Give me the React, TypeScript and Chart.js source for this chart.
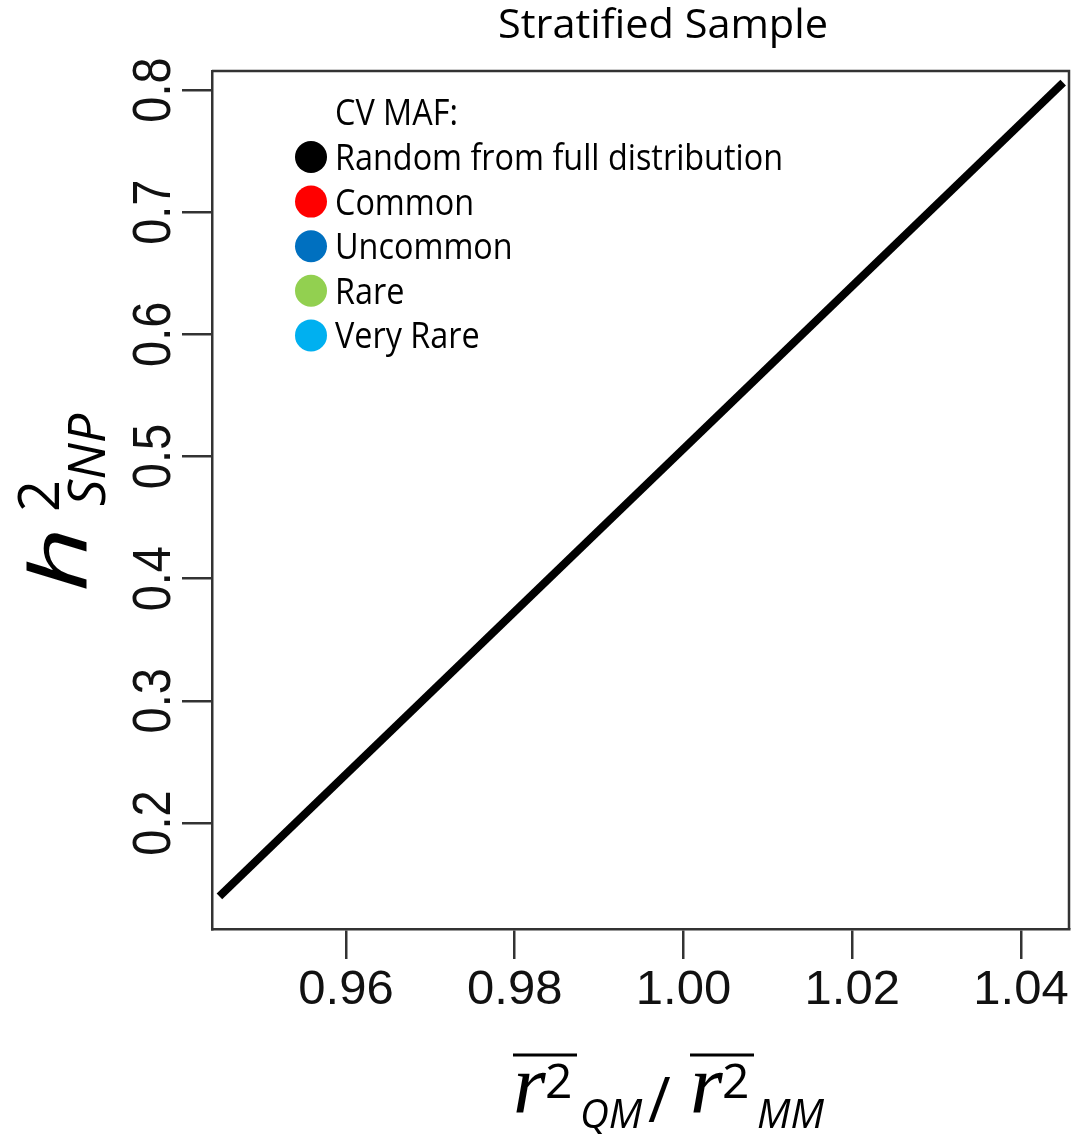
import { useEffect, useRef } from "react";
import { Chart, registerables } from "chart.js";

Chart.register(...registerables);

// Fitted relationship between the r² ratio and SNP heritability
const ratioValues = [0.945, 1.045];
const h2Values = [0.14, 0.806];

// Axis extents and tick marks
const xRange = [0.94412, 1.04569];
const yRange = [0.11324, 0.81555];
const xTicks = [0.96, 0.98, 1.0, 1.02, 1.04];
const yTicks = [0.2, 0.3, 0.4, 0.5, 0.6, 0.7, 0.8];

// Causal-variant MAF categories shown in the key
const legendTitle = "CV MAF:";
const legendLabels = ["Random from full distribution", "Common", "Uncommon", "Rare", "Very Rare"];
const legendColors = ["#000000", "#FF0000", "#0070C0", "#92D050", "#00B0F0"];

const chartTitle = "Stratified Sample";

const AXIS_COLOR = "#333333";
const SANS = "'Open Sans', 'Noto Sans', sans-serif";
const ARIAL = "'Liberation Sans', Arial, sans-serif";
const SERIF = "'Liberation Serif', 'DejaVu Serif', serif";

// Draws text squeezed horizontally so it spans the given width
function drawFitted(ctx: CanvasRenderingContext2D, text: string, x: number, y: number, scaleX: number, align: CanvasTextAlign) {
  ctx.save();
  ctx.translate(x, y);
  ctx.scale(scaleX, 1);
  ctx.textAlign = align;
  ctx.fillText(text, 0, 0);
  ctx.restore();
}

const decorations = {
  id: "decorations",
  afterDraw(chart: any) {
    const ctx: CanvasRenderingContext2D = chart.ctx;
    const area = chart.chartArea;
    const yScale = chart.scales.y;

    ctx.save();
    // closing frame: top and right edges
    ctx.strokeStyle = AXIS_COLOR;
    ctx.lineWidth = 2.5;
    ctx.beginPath();
    ctx.moveTo(area.left, area.top);
    ctx.lineTo(area.right, area.top);
    ctx.lineTo(area.right, area.bottom);
    ctx.stroke();

    ctx.fillStyle = "#111111";
    ctx.textBaseline = "alphabetic";

    // rotated y tick labels
    ctx.font = `47px ${ARIAL}`;
    yScale.ticks.forEach((t: any) => {
      const py = yScale.getPixelForValue(t.value);
      ctx.save();
      ctx.translate(170, py);
      ctx.rotate(-Math.PI / 2);
      ctx.scale(1, 1.13);
      ctx.textAlign = "center";
      ctx.fillText(t.value.toFixed(1), 0, 0);
      ctx.restore();
    });

    // title
    ctx.fillStyle = "#000000";
    ctx.font = `40px ${SANS}`;
    const tw = ctx.measureText(chartTitle).width;
    drawFitted(ctx, chartTitle, 498, 38, 330 / tw, "left");

    // legend
    ctx.font = `37px ${SANS}`;
    const lw = ctx.measureText(legendLabels[0]).width;
    const lsx = 448 / lw;
    drawFitted(ctx, legendTitle, 335, 125, lsx, "left");
    const datasets = chart.data.datasets;
    datasets.forEach((ds: any, i: number) => {
      const base = 170 + i * 44.6;
      ctx.fillStyle = ds.legendColor;
      ctx.beginPath();
      ctx.arc(311, base - 13, 16, 0, Math.PI * 2);
      ctx.fill();
      ctx.fillStyle = "#000000";
      drawFitted(ctx, ds.label, 335, base, lsx, "left");
    });

    // y axis title: h²_SNP, reading bottom to top
    ctx.save();
    ctx.translate(87, 592);
    ctx.rotate(-Math.PI / 2);
    ctx.textAlign = "left";
    ctx.font = `italic 78px ${SANS}`;
    ctx.save();
    ctx.scale(1.45, 1);
    ctx.fillText("h", 0, 0);
    ctx.restore();
    ctx.font = `56px ${SANS}`;
    ctx.fillText("2", 80, -28);
    ctx.font = `italic 52px ${SANS}`;
    ctx.fillText("SNP", 86, 18);
    ctx.restore();

    // x axis title: mean r² QM over mean r² MM
    const drawRatio = (x0: number, sub: string) => {
      ctx.font = `italic 84px ${SERIF}`;
      ctx.textAlign = "left";
      ctx.fillText("r", x0, 1113);
      ctx.font = `48px ${SANS}`;
      ctx.fillText("2", x0 + 32, 1098);
      ctx.font = `italic 40px ${SANS}`;
      ctx.fillText(sub, x0 + 67, 1128);
      ctx.strokeStyle = "#000000";
      ctx.lineWidth = 3;
      ctx.beginPath();
      ctx.moveTo(x0, 1055);
      ctx.lineTo(x0 + 64, 1055);
      ctx.stroke();
    };
    drawRatio(513, "QM");
    ctx.font = `62px ${SANS}`;
    ctx.fillText("/", 648, 1122);
    drawRatio(690, "MM");

    ctx.restore();
  },
};

export default function App() {
  const canvasRef = useRef<HTMLCanvasElement | null>(null);

  useEffect(() => {
    const canvas = canvasRef.current;
    if (!canvas) return;
    const points = ratioValues.map((x, i) => ({ x, y: h2Values[i] }));
    const chart = new Chart(canvas, {
      type: "scatter",
      data: {
        datasets: legendLabels.map((label, i) => ({
          label,
          legendColor: legendColors[i],
          data: i === 0 ? points : [],
          showLine: true,
          borderColor: legendColors[i],
          backgroundColor: legendColors[i],
          borderWidth: 8,
          borderCapStyle: "butt",
          pointRadius: 0,
        })) as any,
      },
      options: {
        animation: false,
        responsive: false,
        devicePixelRatio: 1,
        layout: { padding: { top: 71, right: 15, left: 0, bottom: 0 } },
        plugins: {
          legend: { display: false },
          tooltip: { enabled: false },
          title: { display: false },
        },
        scales: {
          x: {
            type: "linear",
            min: xRange[0],
            max: xRange[1],
            afterBuildTicks: (s: any) => {
              s.ticks = xTicks.map((value) => ({ value }));
            },
            afterFit: (s: any) => {
              s.height = 205;
            },
            ticks: {
              color: "#111111",
              font: { family: ARIAL, size: 49 },
              padding: 2,
              maxRotation: 0,
              callback: (v: any) => Number(v).toFixed(2),
            },
            grid: {
              drawOnChartArea: false,
              drawTicks: true,
              tickLength: 30,
              color: AXIS_COLOR,
              lineWidth: 2.5,
            },
            border: { display: true, color: AXIS_COLOR, width: 2.5 },
          },
          y: {
            type: "linear",
            min: yRange[0],
            max: yRange[1],
            afterBuildTicks: (s: any) => {
              s.ticks = yTicks.map((value) => ({ value }));
            },
            afterFit: (s: any) => {
              s.width = 212;
            },
            ticks: { display: false },
            grid: {
              drawOnChartArea: false,
              drawTicks: true,
              tickLength: 30,
              color: AXIS_COLOR,
              lineWidth: 2.5,
            },
            border: { display: true, color: AXIS_COLOR, width: 2.5 },
          },
        },
      } as any,
      plugins: [decorations],
    });
    return () => chart.destroy();
  }, []);

  return (
    <div style={{ position: "absolute", left: 0, top: 0, width: 1084, height: 1134, background: "#ffffff" }}>
      <canvas ref={canvasRef} width={1084} height={1134} style={{ display: "block" }} />
    </div>
  );
}
